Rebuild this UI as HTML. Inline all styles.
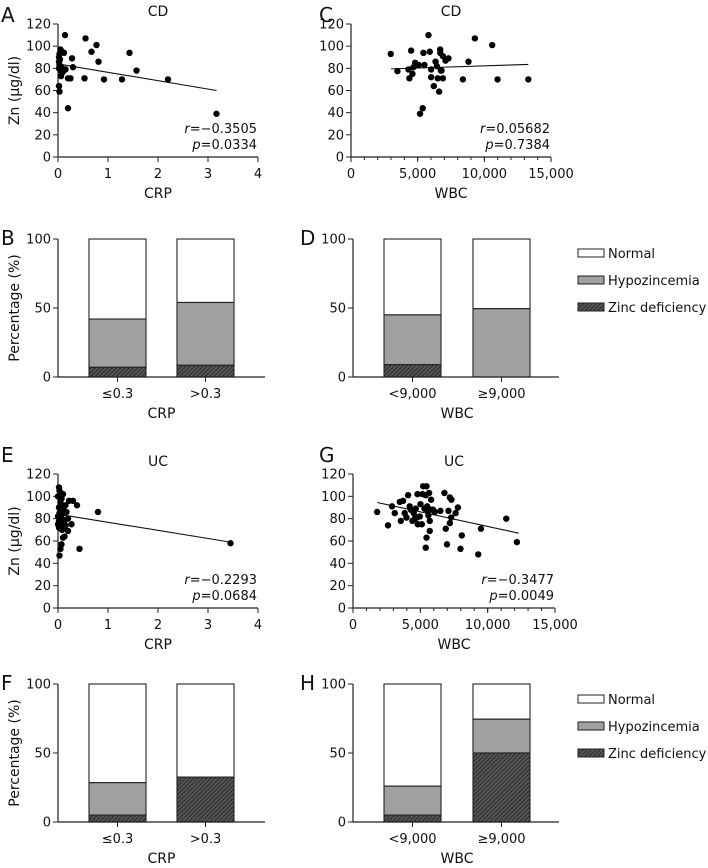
<!DOCTYPE html>
<html><head><meta charset="utf-8"><style>
body{margin:0;background:#fff}
svg{display:block;font-family:"DejaVu Sans","Liberation Sans",sans-serif;}
</style></head><body>
<svg id="fig" width="708" height="868" viewBox="0 0 708 868" xmlns="http://www.w3.org/2000/svg">
<defs>
<pattern id="hatch" patternUnits="userSpaceOnUse" width="3" height="3" patternTransform="rotate(45)">
<rect width="3" height="3" fill="#555"/><line x1="0" y1="0" x2="0" y2="3" stroke="#222" stroke-width="1.6"/>
</pattern>
</defs>
</svg>
<script>
// ---- Data ----
const aCRP = [0.14,0.55,0.77,0.67,1.43,0.81,1.57,2.2,1.28,0.92,0.53,0.25,0.2,0.28,0.3,0.2,0.02,0.03,3.17,0.05,0.08,0.12,0.03,0.02,0.02,0.03,0.02,0.05,0.08,0.1,0.15,0.06,0.1,0.04,0.07];
const aZn  = [110,107,101,95,94,86,78,70,70,70,71,71,71,89,81,44,64,59,39,97,95,94,93,90,86,83,80,78,76,79,79,73,77,88,81];
const aLine = [[0,84],[3.17,60]];
const cWBC = [2980,3480,4310,4380,4510,4610,4810,4680,5080,5510,5430,5180,5380,5810,5910,6010,6010,6210,6340,6440,6510,6610,6690,6690,6740,6790,6890,6890,7090,7310,8390,8810,9290,10590,10990,13300];
const cZn  = [93,77.5,79,71,96,75,85,81,83,83,94,39,44,110,95,79,72,64,86,82,71,59,97,94,78,78,91,71,87,89,70,86,107,101,70,70];
const cLine = [[3000,79.5],[13300,83.5]];
const eCRP = [0.8,3.45,0.43,0.38,0.3,0.22,0.2,0.27,0.2,0.13,0.1,0.07,0.05,0.03,0.02,0.05,0.1,0.07,0.0,0.15,0.15,0.1,0.02,0.03,0.0,0.02,0.0,0.02,0.05,0.12,0.08,0.05,0.05,0.1,0.17,0.03,0.06,0.1,0.15,0.08];
const eZn  = [86,58,53,92,96,96,80,75,69,64,63,57,53,47,108,102,102,98,100,92,86,88,90,85,82,78,75,72,74,77,80,83,95,85,86,105,92,72,74,70];
const eLine = [[0,84],[3.45,59]];
const gWBC = [1790,2600,2900,3100,3470,3550,3720,3840,3970,4090,4210,4290,4410,4510,4590,4660,4730,4790,4810,4960,5010,5110,5160,5210,5310,5400,5460,5460,5400,5510,5550,5600,5650,5700,5700,5800,5850,5950,6070,6490,6790,6890,6980,7090,7190,7190,7310,7290,7620,7790,7980,8080,9300,9500,11380,12170];
const gZn  = [86,74,91,85,95,78,96,85,81,101,91,88,78,85,80,89,81,102,75,82,93,75,102,109,89,101,109,63,54,91,87,83,103,78,69,97,88,88,86,87,103,71,57,87,99,76,97,81,85,90,53,65,48,71,80,59];
const gLine = [[1800,94.5],[12300,67]];
const categoriesCRP = ["≤0.3",">0.3"];
const categoriesWBC = ["<9,000","≥9,000"];
const bZinc = [7,8.5],  bHypo = [35,45.5];
const dZinc = [9,0],    dHypo = [36,49.5];
const fZinc = [5,32.5], fHypo = [23.5,0];
const hZinc = [5,50],   hHypo = [21,24.5];
const yTicksZn = [0,20,40,60,80,100,120];
const yTicksPct = [0,50,100];
const xTicksCRP = [0,1,2,3,4];
const xTicksWBC = [0,5000,10000,15000];
const xTickLabelsWBC = ["0","5,000","10,000","15,000"];
const legendLabels = ["Normal","Hypozincemia","Zinc deficiency"];

const svg = document.getElementById('fig');
const NS = 'http://www.w3.org/2000/svg';
const TS = 13, TT = 14;
function mk(tag, attrs, parent){const e=document.createElementNS(NS,tag);for(const k in attrs)e.setAttribute(k,attrs[k]);(parent||svg).appendChild(e);return e;}
function txt(x,y,s,size,anchor,parent,extra){const t=mk('text',Object.assign({x:x,y:y,'font-size':size,'text-anchor':anchor||'middle',fill:'#111'},extra||{}),parent);t.textContent=s;return t;}

function scatter(name,px0,px1,py0,py1,xmax,xs,ys,line,xt,xtl,minorStep,title,rTxt,pTxt,xlab,ylabel,letter,lx,ly){
  const g=mk('g',{});  
  const X=v=>px0+(v/xmax)*(px1-px0), Y=v=>py0-(v/120)*(py0-py1);
  const L=txt(lx,ly,letter,20,'start',g);  
  const T=txt((px0+px1)/2,py1-8,title,TT,'middle',g);  
  const ya=mk('line',{x1:px0,y1:py0,x2:px0,y2:py1,stroke:'#222','stroke-width':1.2},g);  
  const xa=mk('line',{x1:px0,y1:py0,x2:px1,y2:py0,stroke:'#222','stroke-width':1.2},g);  
  yTicksZn.forEach(v=>{mk('line',{x1:px0-5,x2:px0,y1:Y(v),y2:Y(v),stroke:'#222'},g);
    const t=txt(px0-7,Y(v)+4.5,String(v),TS,'end',g);  });
  if(minorStep){for(let v=0;v<=xmax;v+=minorStep)mk('line',{x1:X(v),x2:X(v),y1:py0,y2:py0+3,stroke:'#222'},g);}
  xt.forEach((v,i)=>{mk('line',{x1:X(v),x2:X(v),y1:py0,y2:py0+5,stroke:'#222'},g);
    const t=txt(X(v),py0+21,xtl[i],TS,'middle',g);  });
  const xl=txt((px0+px1)/2,py0+41,xlab,TT,'middle',g);  
  if(ylabel){const yl=txt(0,0,ylabel,TT,'middle',g,{transform:`translate(19,${(py0+py1)/2}) rotate(-90)`});  }
  const rl=mk('line',{x1:X(line[0][0]),y1:Y(line[0][1]),x2:X(line[1][0]),y2:Y(line[1][1]),stroke:'#111','stroke-width':1.1},g);
   
  xs.forEach((v,i)=>{const c=mk('circle',{cx:X(v),cy:Y(ys[i]),r:3.2,fill:'#000'},g);
     });
  const r=mk('text',{x:px1-1,y:py0-24,'font-size':TS,'text-anchor':'end',fill:'#111'},g); r.innerHTML='<tspan font-style="italic">r</tspan>='+rTxt;
   
  const p=mk('text',{x:px1-1,y:py0-8,'font-size':TS,'text-anchor':'end',fill:'#111'},g); p.innerHTML='<tspan font-style="italic">p</tspan>='+pTxt;
   
}

function bars(name,px0,pxEnd,py0,py1,bx,bw,cats,zinc,hypo,xlab,ylabel,letter,lx,ly,legend){
  const g=mk('g',{});  
  const Y=v=>py0-(v/100)*(py0-py1);
  const L=txt(lx,ly,letter,20,'start',g);  
  cats.forEach((c,i)=>{const x=bx[i];
    const n=mk('rect',{x:x,y:Y(100),width:bw,height:Y(zinc[i]+hypo[i])-Y(100),fill:'#fff',stroke:'#222','stroke-width':1.1},g);
     
    if(hypo[i]>0){const h=mk('rect',{x:x,y:Y(zinc[i]+hypo[i]),width:bw,height:Y(zinc[i])-Y(zinc[i]+hypo[i]),fill:'#a0a0a0',stroke:'#222','stroke-width':1.1},g);
       }
    if(zinc[i]>0){const z=mk('rect',{x:x,y:Y(zinc[i]),width:bw,height:Y(0)-Y(zinc[i]),fill:'url(#hatch)',stroke:'#222','stroke-width':1.1},g);
       }
    mk('line',{x1:x+bw/2,x2:x+bw/2,y1:py0,y2:py0+5,stroke:'#222'},g);
    const t=txt(x+bw/2,py0+21,c,TS,'middle',g);  
  });
  const ya=mk('line',{x1:px0,y1:py0,x2:px0,y2:py1,stroke:'#222','stroke-width':1.2},g);  
  const xa=mk('line',{x1:px0,y1:py0,x2:pxEnd,y2:py0,stroke:'#222','stroke-width':1.2},g);  
  yTicksPct.forEach(v=>{mk('line',{x1:px0-5,x2:px0,y1:Y(v),y2:Y(v),stroke:'#222'},g);
    const t=txt(px0-7,Y(v)+4.5,String(v),TS,'end',g);  });
  const xl=txt((bx[0]+bx[1]+bw)/2,py0+41,xlab,TT,'middle',g);  
  if(ylabel){const yl=txt(0,0,ylabel,TT,'middle',g,{transform:`translate(19,${(py0+py1)/2}) rotate(-90)`});  }
  if(legend){const fills=['#fff','#a0a0a0','url(#hatch)'];
    legendLabels.forEach((s,i)=>{const yy=legend[1]+i*27;
      const lg=mk('g',{},g);  
      mk('rect',{x:legend[0],y:yy-4,width:26,height:8,fill:fills[i],stroke:'#222'},lg);
      txt(legend[0]+30,yy+5,s,TS,'start',lg);});}
}

scatter('a',58,258,157,24,4,aCRP,aZn,aLine,xTicksCRP,xTicksCRP.map(String),0,'CD','−0.3505','0.0334','CRP','Zn (µg/dl)','A',1,22);
scatter('c',351,551,157,24,15000,cWBC,cZn,cLine,xTicksWBC,xTickLabelsWBC,1000,'CD','0.05682','0.7384','WBC',null,'C',319,22);
scatter('e',58,258,608,474,4,eCRP,eZn,eLine,xTicksCRP,xTicksCRP.map(String),0,'UC','−0.2293','0.0684','CRP','Zn (µg/dl)','E',1,462);
scatter('g',353,555,608,474,15000,gWBC,gZn,gLine,xTicksWBC,xTickLabelsWBC,1000,'UC','−0.3477','0.0049','WBC',null,'G',319,462);

bars('b',58,265,377,239,[89,177],57,categoriesCRP,bZinc,bHypo,'CRP','Percentage (%)','B',1,245,null);
bars('d',353,559,377,239,[384,473],57,categoriesWBC,dZinc,dHypo,'WBC',null,'D',300,245,[578,253]);
bars('f',58,265,822,684,[89,177],57,categoriesCRP,fZinc,fHypo,'CRP','Percentage (%)','F',1,690,null);
bars('h',353,559,822,684,[384,473],57,categoriesWBC,hZinc,hHypo,'WBC',null,'H',300,690,[578,699]);
</script>
</body></html>
